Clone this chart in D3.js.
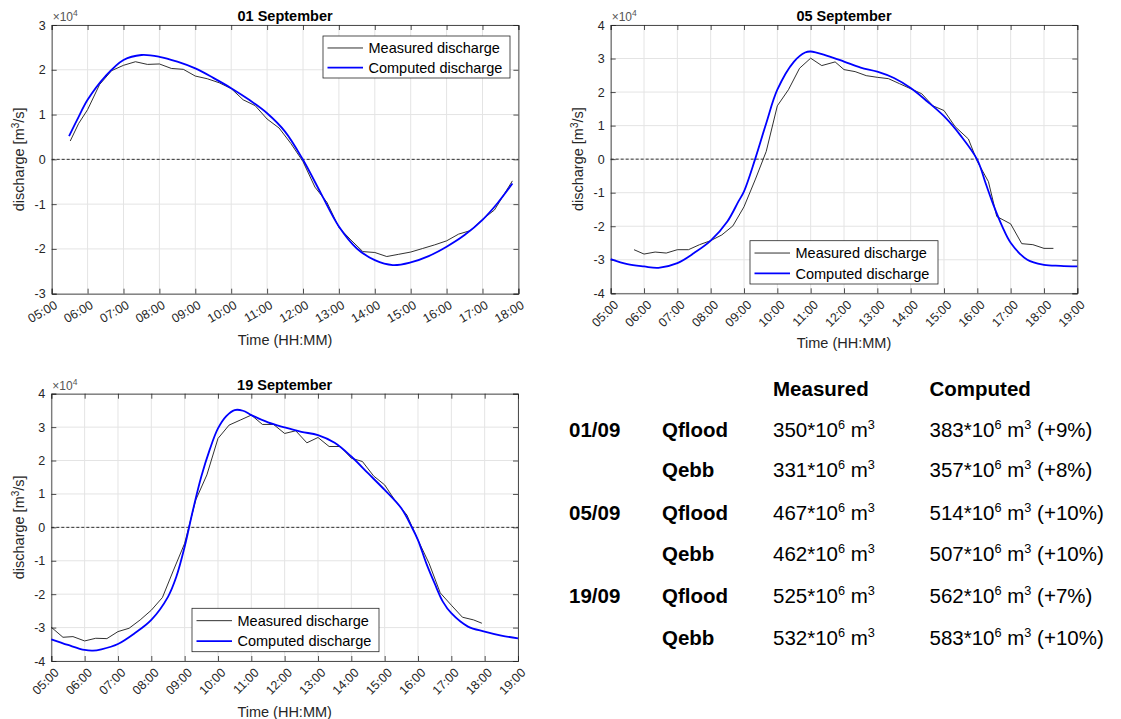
<!DOCTYPE html>
<html>
<head>
<meta charset="utf-8">
<script src="https://cdn.jsdelivr.net/npm/d3@7"></script>
<style>
  html, body { margin: 0; padding: 0; background: #fff; }
  svg { display: block; font-family: "Liberation Sans", Arial, Helvetica, sans-serif; }
</style>
</head>
<body>
<svg id="chart" width="1121" height="719"></svg>
<script>
// ---------------- DATA (discharge in units of 10^4 m3/s) ----------------
const xTicks01 = ["05:00","06:00","07:00","08:00","09:00","10:00","11:00","12:00","13:00","14:00","15:00","16:00","17:00","18:00"];
const xTicks05 = ["05:00","06:00","07:00","08:00","09:00","10:00","11:00","12:00","13:00","14:00","15:00","16:00","17:00","18:00","19:00"];
const xTicks19 = ["05:00","06:00","07:00","08:00","09:00","10:00","11:00","12:00","13:00","14:00","15:00","16:00","17:00","18:00","19:00"];
const yTicks01 = [-3,-2,-1,0,1,2,3];
const yTicks05 = [-4,-3,-2,-1,0,1,2,3,4];
const yTicks19 = [-4,-3,-2,-1,0,1,2,3,4];

const titles = ["01 September","05 September","19 September"];
const seriesNames = ["Measured discharge","Computed discharge"];

// 01 September
const sep01MeasTime = ["05:31","05:45","06:00","06:20","06:40","07:00","07:20","07:40","08:00","08:20","08:40","09:00","09:20","09:40","10:00","10:20","10:40","11:00","11:20","11:40","12:00","12:20","12:40","13:00","13:20","13:40","14:00","14:20","14:40","15:00","15:20","15:40","16:00","16:20","16:40","17:00","17:20","17:50"];
const sep01MeasQ    = [0.41,0.80,1.11,1.67,1.98,2.10,2.18,2.12,2.13,2.03,2.01,1.86,1.80,1.71,1.58,1.33,1.20,0.90,0.70,0.35,-0.05,-0.62,-0.96,-1.52,-1.80,-2.06,-2.08,-2.17,-2.12,-2.07,-1.99,-1.91,-1.82,-1.67,-1.59,-1.34,-1.13,-0.48];
const sep01CompTime = ["05:29","05:45","06:00","06:30","07:00","07:30","08:00","08:30","09:00","09:30","10:00","10:30","11:00","11:30","12:00","12:30","13:00","13:30","14:00","14:30","15:00","15:30","16:00","16:30","17:00","17:25","17:50"];
const sep01CompQ    = [0.52,0.95,1.33,1.86,2.22,2.33,2.29,2.18,2.03,1.82,1.59,1.33,1.03,0.62,-0.01,-0.76,-1.50,-1.99,-2.25,-2.36,-2.30,-2.16,-1.95,-1.69,-1.35,-0.98,-0.54];

// 05 September
const sep05MeasTime = ["05:42","06:00","06:20","06:40","07:00","07:20","07:40","08:00","08:20","08:40","09:00","09:20","09:40","10:00","10:20","10:40","11:00","11:20","11:44","12:00","12:20","12:40","13:00","13:20","13:40","14:00","14:20","14:40","15:00","15:20","15:44","16:00","16:20","16:35","17:00","17:20","17:40","18:00","18:17"];
const sep05MeasQ    = [-2.70,-2.83,-2.77,-2.80,-2.70,-2.70,-2.55,-2.43,-2.26,-1.99,-1.42,-0.62,0.23,1.59,2.07,2.71,3.01,2.79,2.90,2.67,2.61,2.49,2.44,2.40,2.25,2.10,1.95,1.59,1.45,0.97,0.60,-0.07,-0.67,-1.71,-1.93,-2.52,-2.55,-2.66,-2.66];
const sep05CompTime = ["05:00","05:30","06:00","06:26","07:00","07:30","08:00","08:30","08:50","09:00","09:20","09:40","10:00","10:30","10:50","11:00","11:30","12:00","12:30","13:00","13:30","14:00","14:30","15:00","15:30","16:00","16:15","16:30","16:45","17:00","17:30","18:00","18:30","19:00"];
const sep05CompQ    = [-2.98,-3.13,-3.20,-3.24,-3.10,-2.80,-2.43,-1.86,-1.26,-0.96,0.00,1.07,2.07,2.91,3.18,3.21,3.08,2.91,2.73,2.61,2.42,2.12,1.72,1.28,0.70,-0.02,-0.72,-1.41,-2.01,-2.49,-3.00,-3.15,-3.18,-3.20];

// 19 September
const sep19MeasTime = ["05:00","05:21","05:39","06:00","06:20","06:40","07:00","07:20","07:40","08:00","08:20","08:40","09:00","09:20","09:40","10:00","10:20","10:40","11:00","11:20","11:40","12:00","12:20","12:40","13:00","13:20","13:40","14:00","14:20","14:40","15:00","15:20","15:40","16:00","16:20","16:40","17:00","17:20","17:40","17:55"];
const sep19MeasQ    = [-2.99,-3.29,-3.27,-3.40,-3.32,-3.33,-3.12,-3.02,-2.77,-2.48,-2.10,-1.28,-0.48,0.82,1.57,2.66,3.06,3.21,3.36,3.08,3.08,2.81,2.89,2.53,2.69,2.42,2.42,2.07,1.97,1.54,1.27,0.77,0.37,-0.38,-1.08,-1.96,-2.33,-2.69,-2.77,-2.87];
const sep19CompTime = ["05:00","05:30","06:00","06:15","06:30","07:00","07:30","08:00","08:30","08:45","09:00","09:15","09:30","09:45","10:00","10:15","10:30","10:45","11:00","11:30","12:00","12:30","13:00","13:30","14:00","14:30","15:00","15:30","15:49","16:00","16:15","16:30","16:45","17:00","17:30","18:00","18:30","19:00"];
const sep19CompQ    = [-3.35,-3.52,-3.67,-3.69,-3.65,-3.49,-3.17,-2.77,-2.08,-1.48,-0.58,0.52,1.52,2.32,2.96,3.33,3.51,3.49,3.36,3.14,2.99,2.86,2.76,2.53,2.12,1.62,1.12,0.57,0.00,-0.38,-1.08,-1.68,-2.23,-2.57,-2.97,-3.12,-3.24,-3.32];

// Table
const tableDates   = ["01/09","","05/09","","19/09",""];
const tableQ       = ["Qflood","Qebb","Qflood","Qebb","Qflood","Qebb"];
const measuredVol  = [350,331,467,462,525,532];
const computedVol  = [383,357,514,507,562,583];
const computedPct  = ["+9%","+8%","+10%","+10%","+7%","+10%"];
const tableHeaders = ["Measured","Computed"];

// ---------------- DRAWING ----------------
const svg = d3.select("#chart");
const parseT = d3.timeParse("%H:%M");
const fmtT = d3.timeFormat("%H:%M");
const AX = "#262626";

const panels = [
  { left: 51.7, right: 518.4, top: 25, bottom: 293.7, yTicks: yTicks01, xTicks: xTicks01, rot: -30,
    title: titles[0], meas: [sep01MeasTime, sep01MeasQ], comp: [sep01CompTime, sep01CompQ],
    legend: { x: 323, y: 36, w: 187, h: 42 }, xlabelY: 345, titleY: 21 },
  { left: 610.7, right: 1077.3, top: 25, bottom: 293.3, yTicks: yTicks05, xTicks: xTicks05, rot: -45,
    title: titles[1], meas: [sep05MeasTime, sep05MeasQ], comp: [sep05CompTime, sep05CompQ],
    legend: { x: 750, y: 240.7, w: 188, h: 43.3 }, xlabelY: 348, titleY: 21 },
  { left: 51.3, right: 518, top: 393.7, bottom: 661, yTicks: yTicks19, xTicks: xTicks19, rot: -45,
    title: titles[2], meas: [sep19MeasTime, sep19MeasQ], comp: [sep19CompTime, sep19CompQ],
    legend: { x: 192, y: 608.3, w: 187, h: 43.4 }, xlabelY: 716.5, titleY: 389.5 }
];

panels.forEach(p => {
  const xTimes = p.xTicks.map(parseT);
  const x = d3.scaleTime().domain([xTimes[0], xTimes[xTimes.length - 1]]).range([p.left, p.right]);
  const y = d3.scaleLinear().domain([p.yTicks[0], p.yTicks[p.yTicks.length - 1]]).range([p.bottom, p.top]);
  const g = svg.append("g");

  // grid
  g.append("g").selectAll("line").data(xTimes).join("line")
    .attr("x1", d => x(d)).attr("x2", d => x(d)).attr("y1", p.top).attr("y2", p.bottom)
    .attr("stroke", "#e4e4e4").attr("stroke-width", 1);
  g.append("g").selectAll("line").data(p.yTicks).join("line")
    .attr("x1", p.left).attr("x2", p.right).attr("y1", d => y(d)).attr("y2", d => y(d))
    .attr("stroke", "#e4e4e4").attr("stroke-width", 1);

  // zero dashed line
  g.append("line").attr("x1", p.left).attr("x2", p.right).attr("y1", y(0)).attr("y2", y(0))
    .attr("stroke", "#000").attr("stroke-width", 0.8).attr("stroke-dasharray", "3,2");

  // axes via d3 axis (inward ticks)
  const xAxisB = d3.axisBottom(x).tickValues(xTimes).tickSize(-5).tickFormat("");
  const xAxisT = d3.axisTop(x).tickValues(xTimes).tickSize(-5).tickFormat("");
  const yAxisL = d3.axisLeft(y).tickValues(p.yTicks).tickSize(-5).tickFormat(d => String(d)).tickPadding(6);
  const yAxisR = d3.axisRight(y).tickValues(p.yTicks).tickSize(-5).tickFormat("");

  const styleAxis = sel => {
    sel.selectAll("path").attr("stroke", AX).attr("stroke-width", 0.8);
    sel.selectAll("line").attr("stroke", AX).attr("stroke-width", 0.8);
    sel.selectAll("text").attr("fill", AX).attr("font-size", 12.5)
      .attr("font-family", "'Liberation Sans', Arial, sans-serif");
  };
  const gxb = g.append("g").attr("transform", `translate(0,${p.bottom})`).call(xAxisB);
  styleAxis(gxb);
  styleAxis(g.append("g").attr("transform", `translate(0,${p.top})`).call(xAxisT));
  styleAxis(g.append("g").attr("transform", `translate(${p.left},0)`).call(yAxisL));
  styleAxis(g.append("g").attr("transform", `translate(${p.right},0)`).call(yAxisR));

  // rotated x tick labels
  g.append("g").selectAll("text").data(xTimes).join("text")
    .attr("transform", d => `translate(${x(d) + 2},${p.bottom + 6}) rotate(${p.rot})`)
    .attr("text-anchor", "end").attr("dy", "0.72em")
    .attr("font-size", 12.5).attr("fill", AX)
    .text(d => fmtT(d));

  // x10^4
  const ex = g.append("text").attr("x", p.left + 1).attr("y", p.top - 4)
    .attr("font-size", 12).attr("fill", "#555");
  ex.append("tspan").text("\u00d710");
  ex.append("tspan").attr("dy", -5).attr("font-size", 8.5).text("4");

  // title
  g.append("text").attr("x", (p.left + p.right) / 2).attr("y", p.titleY)
    .attr("text-anchor", "middle").attr("font-weight", "bold").attr("font-size", 14.5).attr("fill", "#000")
    .text(p.title);

  // x label
  g.append("text").attr("x", (p.left + p.right) / 2).attr("y", p.xlabelY)
    .attr("text-anchor", "middle").attr("font-size", 14.5).attr("fill", AX)
    .text("Time (HH:MM)");

  // y label
  const yl = g.append("text")
    .attr("transform", `translate(${p.left - 27.5},${(p.top + p.bottom) / 2}) rotate(-90)`)
    .attr("text-anchor", "middle").attr("font-size", 14.5).attr("fill", AX);
  yl.append("tspan").text("discharge [m");
  yl.append("tspan").attr("dy", -5).attr("font-size", 10).text("3");
  yl.append("tspan").attr("dy", 5).text("/s]");

  // lines
  const mData = p.meas[0].map((t, i) => ({ t: parseT(t), v: p.meas[1][i] }));
  const cData = p.comp[0].map((t, i) => ({ t: parseT(t), v: p.comp[1][i] }));
  const lineM = d3.line().x(d => x(d.t)).y(d => y(d.v));
  const lineC = d3.line().x(d => x(d.t)).y(d => y(d.v)).curve(d3.curveCatmullRom.alpha(0.5));
  g.append("path").datum(mData).attr("d", lineM).attr("fill", "none")
    .attr("stroke", "#1a1a1a").attr("stroke-width", 0.9);
  g.append("path").datum(cData).attr("d", lineC).attr("fill", "none")
    .attr("stroke", "#0000ff").attr("stroke-width", 1.8);

  // legend
  const L = p.legend;
  const lg = g.append("g");
  lg.append("rect").attr("x", L.x).attr("y", L.y).attr("width", L.w).attr("height", L.h)
    .attr("fill", "#fff").attr("stroke", AX).attr("stroke-width", 0.8);
  const rows = [L.y + L.h * 0.285, L.y + L.h * 0.755];
  const styles = [{ c: "#1a1a1a", w: 0.9 }, { c: "#0000ff", w: 1.8 }];
  seriesNames.forEach((name, i) => {
    lg.append("line").attr("x1", L.x + 4.5).attr("x2", L.x + 40).attr("y1", rows[i]).attr("y2", rows[i])
      .attr("stroke", styles[i].c).attr("stroke-width", styles[i].w);
    lg.append("text").attr("x", L.x + 45.5).attr("y", rows[i]).attr("dy", "0.36em")
      .attr("font-size", 14.5).attr("fill", "#000").text(name);
  });
});

// ---------------- TABLE ----------------
const tfs = 20.5;
const tg = svg.append("g").attr("font-size", tfs).attr("fill", "#000");
const colX = { date: 569, q: 662, meas: 773, comp: 929.5 };
const headerY = 395.5;
const rowY = [436.7, 477.4, 520, 561.4, 603, 644.6];

tg.append("text").attr("x", colX.meas).attr("y", headerY).attr("font-weight", "bold").text(tableHeaders[0]);
tg.append("text").attr("x", colX.comp).attr("y", headerY).attr("font-weight", "bold").text(tableHeaders[1]);

const addVol = (sel, val, suffix) => {
  sel.append("tspan").text(val + "*10");
  sel.append("tspan").attr("dy", -8).attr("font-size", tfs * 0.62).text("6");
  sel.append("tspan").attr("dy", 8).text(" m");
  sel.append("tspan").attr("dy", -8).attr("font-size", tfs * 0.62).text("3");
  if (suffix) sel.append("tspan").attr("dy", 8).text(" (" + suffix + ")");
};

rowY.forEach((ry, i) => {
  if (tableDates[i]) tg.append("text").attr("x", colX.date).attr("y", ry).attr("font-weight", "bold").text(tableDates[i]);
  tg.append("text").attr("x", colX.q).attr("y", ry).attr("font-weight", "bold").text(tableQ[i]);
  addVol(tg.append("text").attr("x", colX.meas).attr("y", ry), measuredVol[i], null);
  addVol(tg.append("text").attr("x", colX.comp).attr("y", ry), computedVol[i], computedPct[i]);
});
</script>
</body>
</html>
